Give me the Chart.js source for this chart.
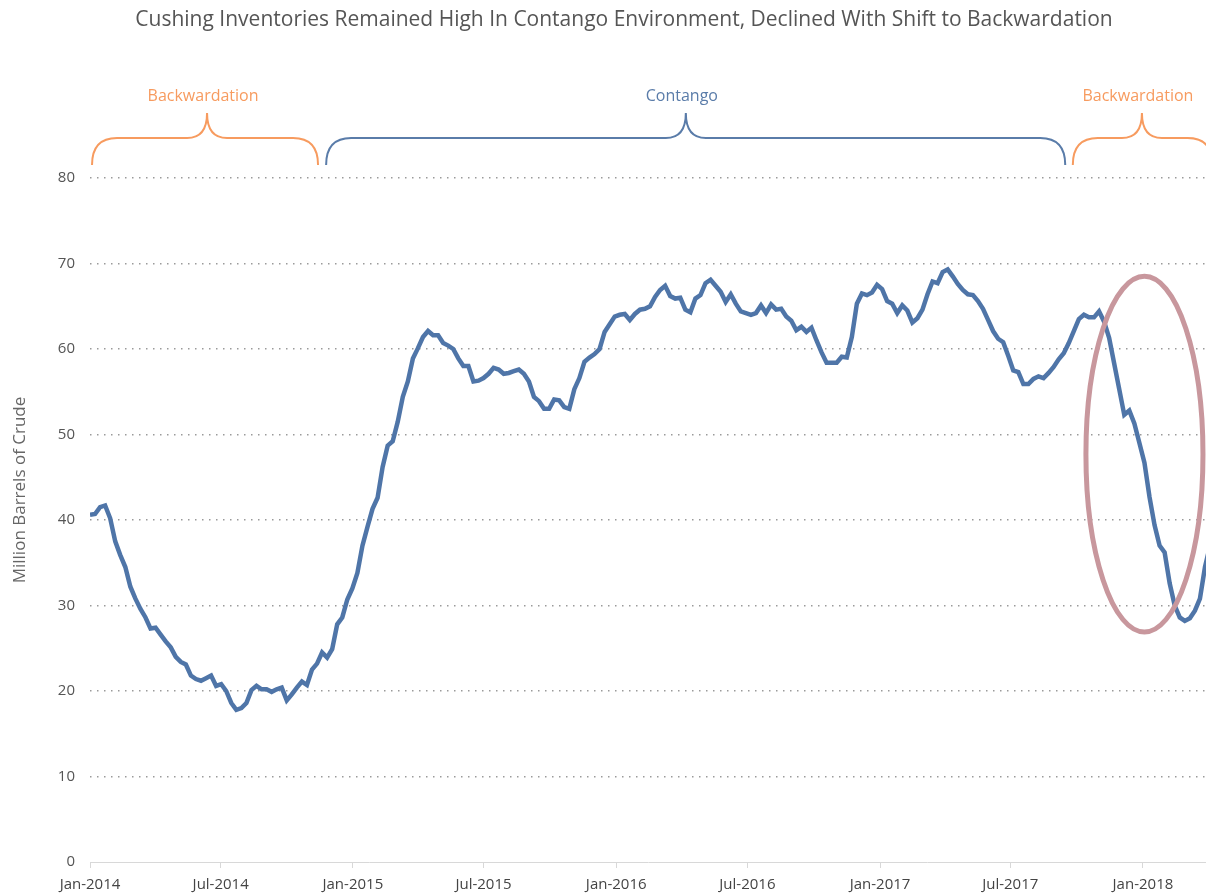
<!DOCTYPE html>
<html lang="en">
<head>
    <meta charset="UTF-8">
    <title>Cushing Inventories</title>
    <script src="https://cdn.jsdelivr.net/npm/chart.js"></script>
    <style>
        html, body { margin: 0; padding: 0; background: #fff; }
    </style>
</head>
<body>
<canvas id="cushingChart" width="1206" height="894"></canvas>

<script>
    // Weekly Cushing crude inventories (million barrels), first week of Jan-2014 onward
    const inventories = [
        40.6, 40.7, 41.5, 41.7, 40.2, 37.5, 35.9, 34.5, 32.2, 30.8,
        29.6, 28.6, 27.3, 27.4, 26.6, 25.8, 25.1, 24.0, 23.4, 23.1,
        21.8, 21.4, 21.2, 21.5, 21.8, 20.6, 20.8, 20.0, 18.6, 17.8,
        18.0, 18.6, 20.1, 20.6, 20.2, 20.2, 19.9, 20.2, 20.4, 18.9,
        19.6, 20.4, 21.1, 20.7, 22.5, 23.2, 24.5, 23.9, 24.9, 27.8,
        28.6, 30.7, 32.0, 33.8, 37.0, 39.2, 41.3, 42.6, 46.2, 48.7,
        49.2, 51.5, 54.4, 56.2, 58.9, 60.1, 61.4, 62.1, 61.6, 61.6,
        60.7, 60.4, 60.0, 58.9, 58.0, 58.0, 56.2, 56.3, 56.6, 57.1,
        57.8, 57.6, 57.1, 57.2, 57.4, 57.6, 57.1, 56.2, 54.4, 53.9,
        53.0, 53.0, 54.1, 54.0, 53.2, 53.0, 55.3, 56.6, 58.5, 59.0,
        59.4, 60.0, 62.0, 62.9, 63.8, 64.0, 64.1, 63.4, 64.1, 64.6,
        64.7, 65.0, 66.1, 66.9, 67.4, 66.2, 65.9, 66.0, 64.6, 64.3,
        65.9, 66.3, 67.7, 68.1, 67.4, 66.7, 65.5, 66.4, 65.3, 64.4,
        64.2, 64.0, 64.2, 65.1, 64.2, 65.2, 64.6, 64.7, 63.8, 63.3,
        62.2, 62.6, 62.0, 62.5, 61.0, 59.6, 58.4, 58.4, 58.4, 59.1,
        59.0, 61.4, 65.3, 66.5, 66.3, 66.6, 67.5, 67.0, 65.6, 65.3,
        64.2, 65.1, 64.5, 63.1, 63.6, 64.6, 66.4, 67.9, 67.7, 69.0,
        69.3, 68.5, 67.6, 66.9, 66.4, 66.3, 65.6, 64.7, 63.4, 62.1,
        61.2, 60.8, 59.2, 57.5, 57.3, 55.9, 55.9, 56.5, 56.8, 56.6,
        57.2, 57.9, 58.8, 59.5, 60.7, 62.1, 63.5, 64.0, 63.7, 63.7,
        64.4, 63.2, 61.3, 58.3, 55.3, 52.3, 52.8, 51.3, 49.0, 46.7,
        42.7, 39.4, 37.0, 36.2, 32.6, 30.0, 28.6, 28.2, 28.5, 29.4,
        30.8, 34.5, 37.0
    ];

    // x-axis ticks, in weeks since Jan-2014
    const tickWeeks = [0, 25.9, 52.1, 78.0, 104.3, 130.3, 156.6, 182.4, 208.7];
    const tickLabels = ['Jan-2014', 'Jul-2014', 'Jan-2015', 'Jul-2015', 'Jan-2016',
                        'Jul-2016', 'Jan-2017', 'Jul-2017', 'Jan-2018'];
    const yTicks = [0, 10, 20, 30, 40, 50, 60, 70, 80];

    // market structure periods (weeks since Jan-2014)
    const periodLabels = ['Backwardation', 'Contango', 'Backwardation'];
    const periodStarts = [0.4, 46.8, 194.8];
    const periodEnds = [45.2, 193.3, 222.5];
    const periodTips = [23.2, 118.1, 208.5];

    // highlighted drawdown (week, value, half width in weeks, half height in barrels)
    const highlight = [209, 47.7, 11.6, 20.8];

    const FONT = "'Open Sans', sans-serif";
    const ORANGE = '#F79B5F';
    const BLUE = '#5A7CA9';
    const periodColors = [ORANGE, BLUE, ORANGE];

    // title, y-axis title, period braces and the ellipse
    const annotations = {
        id: 'annotations',
        afterDatasetsDraw(chart) {
            const ctx = chart.ctx;
            const xs = chart.scales.x;
            const ys = chart.scales.y;
            const top = chart.chartArea.top;

            ctx.save();
            ctx.fillStyle = '#555';
            ctx.font = '21px ' + FONT;
            ctx.textAlign = 'center';
            ctx.textBaseline = 'middle';
            ctx.fillText('Cushing Inventories Remained High In Contango Environment, Declined With Shift to Backwardation', 624, 20);

            ctx.save();
            ctx.translate(20, 490);
            ctx.rotate(-Math.PI / 2);
            ctx.fillStyle = '#666';
            ctx.font = '17px ' + FONT;
            ctx.fillText('Million Barrels of Crude', 0, 0);
            ctx.restore();

            const yEnd = top - 13, yH = top - 40, yTip = top - 65;
            periodLabels.forEach((label, i) => {
                const x0 = xs.getPixelForValue(periodStarts[i]);
                const x1 = xs.getPixelForValue(periodEnds[i]);
                const xt = xs.getPixelForValue(periodTips[i]);
                ctx.strokeStyle = periodColors[i];
                ctx.lineWidth = 2;
                ctx.beginPath();
                ctx.moveTo(x0, yEnd);
                ctx.quadraticCurveTo(x0, yH, x0 + 25, yH);
                ctx.lineTo(xt - 20, yH);
                ctx.quadraticCurveTo(xt, yH, xt, yTip);
                ctx.quadraticCurveTo(xt, yH, xt + 20, yH);
                ctx.lineTo(x1 - 25, yH);
                ctx.quadraticCurveTo(x1, yH, x1, yEnd);
                ctx.stroke();

                ctx.fillStyle = periodColors[i];
                ctx.font = '16px ' + FONT;
                ctx.fillText(label, xt - 4, top - 82);
            });

            const cx = xs.getPixelForValue(highlight[0]);
            const cy = ys.getPixelForValue(highlight[1]);
            const rx = xs.getPixelForValue(highlight[0] + highlight[2]) - cx;
            const ry = cy - ys.getPixelForValue(highlight[1] + highlight[3]);
            ctx.strokeStyle = '#C8979D';
            ctx.lineWidth = 5;
            ctx.beginPath();
            ctx.ellipse(cx, cy, rx, ry, 0, 0, Math.PI * 2);
            ctx.stroke();
            ctx.restore();
        }
    };

    const ctx1 = document.getElementById('cushingChart').getContext('2d');
    const cushingChart = new Chart(ctx1, {
        type: 'line',
        data: {
            datasets: [{
                label: 'Cushing Inventories',
                data: inventories.map((v, i) => ({ x: i, y: v })),
                borderColor: '#4F75A8',
                borderWidth: 4.5,
                pointRadius: 0,
                tension: 0,
                fill: false
            }]
        },
        options: {
            responsive: false,
            animation: false,
            layout: { padding: { top: 178, right: 0, left: 0, bottom: 0 } },
            plugins: {
                legend: { display: false },
                tooltip: { enabled: false }
            },
            scales: {
                x: {
                    type: 'linear',
                    min: 0,
                    max: 221.2,
                    afterBuildTicks(scale) {
                        scale.ticks = tickWeeks.map(v => ({ value: v }));
                    },
                    afterFit(scale) { scale.height = 32; },
                    ticks: {
                        autoSkip: false,
                        maxRotation: 0,
                        padding: 8,
                        color: '#444',
                        font: { family: FONT, size: 15 },
                        callback: (value, index) => tickLabels[index]
                    },
                    grid: {
                        drawOnChartArea: false,
                        drawTicks: true,
                        tickLength: 6,
                        color: '#d8d8d8'
                    },
                    border: { display: true, color: '#d8d8d8', width: 1 }
                },
                y: {
                    min: 0,
                    max: 80,
                    afterBuildTicks(scale) {
                        scale.ticks = yTicks.map(v => ({ value: v }));
                    },
                    afterFit(scale) { scale.width = 90; },
                    ticks: {
                        padding: 15,
                        color: '#555',
                        font: { family: FONT, size: 15 }
                    },
                    grid: {
                        drawTicks: false,
                        lineWidth: 1.5,
                        color: ctx => ctx.tick && ctx.tick.value === 0 ? 'rgba(0,0,0,0)' : '#9a9a9a'
                    },
                    border: { display: false, dash: [1.5, 5.5] }
                }
            }
        },
        plugins: [annotations]
    });
</script>
</body>
</html>
